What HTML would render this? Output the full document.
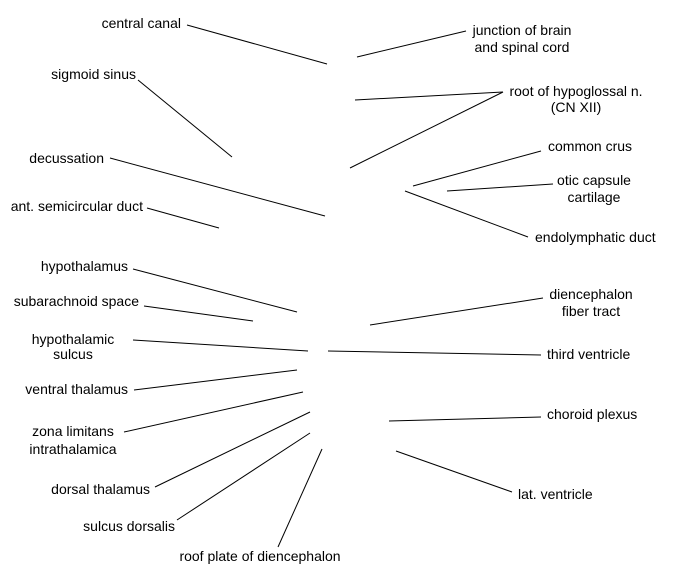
<!DOCTYPE html>
<html><head><meta charset="utf-8"><style>
html,body{margin:0;padding:0;background:#fff;}
svg text{font-family:"Liberation Sans",Arial,sans-serif;font-size:14px;fill:#000;}
</style></head><body>
<svg width="675" height="580" viewBox="0 0 675 580" xmlns="http://www.w3.org/2000/svg">
<g stroke="#000" stroke-width="1" fill="none">
<line x1="187" y1="25" x2="327" y2="64"/>
<line x1="357" y1="57" x2="466" y2="31"/>
<line x1="138" y1="80" x2="232" y2="157"/>
<line x1="503" y1="92" x2="355" y2="100"/>
<line x1="503" y1="92" x2="350" y2="168"/>
<line x1="110" y1="158" x2="325" y2="216"/>
<line x1="541" y1="151" x2="413" y2="186"/>
<line x1="553" y1="184" x2="447" y2="191"/>
<line x1="147" y1="208" x2="219" y2="228"/>
<line x1="528" y1="237" x2="405" y2="191"/>
<line x1="133" y1="269" x2="297" y2="312"/>
<line x1="543" y1="298" x2="370" y2="325"/>
<line x1="144" y1="306" x2="253" y2="321"/>
<line x1="133" y1="340" x2="308" y2="351"/>
<line x1="541" y1="355" x2="328" y2="351"/>
<line x1="134" y1="390" x2="297" y2="370"/>
<line x1="541" y1="417" x2="389" y2="421"/>
<line x1="124" y1="432" x2="303" y2="392"/>
<line x1="155" y1="487" x2="310" y2="412"/>
<line x1="512" y1="492" x2="396" y2="451"/>
<line x1="177" y1="520" x2="310" y2="433"/>
<line x1="278" y1="547" x2="322" y2="449"/>
</g>
<text x="181" y="28" text-anchor="end">central canal</text>
<text x="522" y="35" text-anchor="middle">junction of brain</text>
<text x="522" y="52" text-anchor="middle">and spinal cord</text>
<text x="136" y="79" text-anchor="end">sigmoid sinus</text>
<text x="576" y="96" text-anchor="middle">root of hypoglossal n.</text>
<text x="576" y="112" text-anchor="middle">(CN XII)</text>
<text x="104" y="163" text-anchor="end">decussation</text>
<text x="548" y="151">common crus</text>
<text x="594" y="185" text-anchor="middle">otic capsule</text>
<text x="594" y="202" text-anchor="middle">cartilage</text>
<text x="143" y="211" text-anchor="end">ant. semicircular duct</text>
<text x="535" y="242">endolymphatic duct</text>
<text x="128" y="271" text-anchor="end">hypothalamus</text>
<text x="591" y="299" text-anchor="middle">diencephalon</text>
<text x="591" y="316" text-anchor="middle">fiber tract</text>
<text x="139" y="306" text-anchor="end">subarachnoid space</text>
<text x="73" y="344" text-anchor="middle">hypothalamic</text>
<text x="73" y="359" text-anchor="middle">sulcus</text>
<text x="547" y="359">third ventricle</text>
<text x="128" y="394" text-anchor="end">ventral thalamus</text>
<text x="547" y="419">choroid plexus</text>
<text x="73" y="436" text-anchor="middle">zona limitans</text>
<text x="73" y="454" text-anchor="middle">intrathalamica</text>
<text x="150" y="494" text-anchor="end">dorsal thalamus</text>
<text x="518" y="499">lat. ventricle</text>
<text x="175" y="531" text-anchor="end">sulcus dorsalis</text>
<text x="260" y="561" text-anchor="middle">roof plate of diencephalon</text>
</svg>
</body></html>
